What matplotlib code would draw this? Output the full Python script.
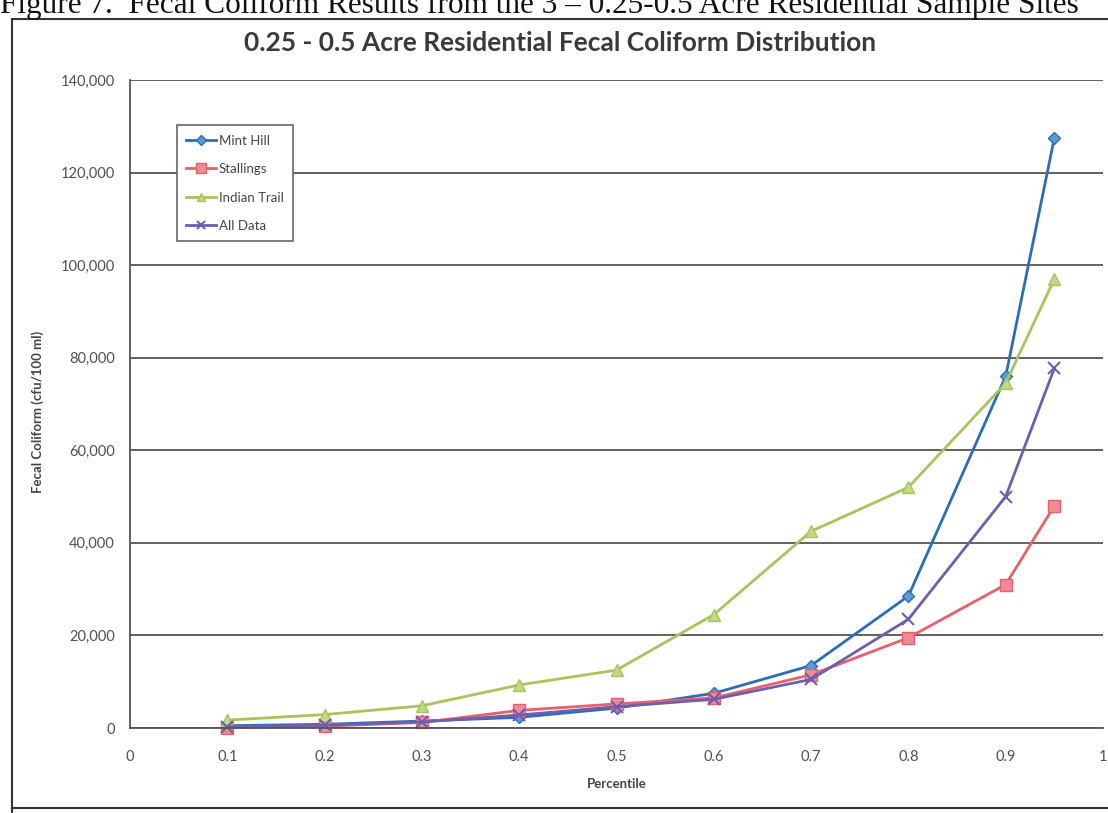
import matplotlib
matplotlib.use("Agg")
import matplotlib.pyplot as plt
from matplotlib.lines import Line2D
from matplotlib.ticker import FuncFormatter, MultipleLocator

# ---------------- data ----------------
percentile = [0.1, 0.2, 0.3, 0.4, 0.5, 0.6, 0.7, 0.8, 0.9, 0.95]
mint_hill = [500, 800, 1500, 2300, 4300, 7500, 13500, 28500, 76000, 127500]
stallings = [100, 400, 1200, 3800, 5200, 6500, 11500, 19500, 31000, 48000]
indian_trail = [1700, 2900, 4800, 9300, 12500, 24500, 42500, 52000, 74500, 97000]
all_data = [300, 600, 1300, 2800, 4600, 6200, 10500, 23500, 50000, 77700]

series_names = ["Mint Hill", "Stallings", "Indian Trail", "All Data"]
x_ticks = [0, 0.1, 0.2, 0.3, 0.4, 0.5, 0.6, 0.7, 0.8, 0.9, 1]
x_tick_labels = ["0", "0.1", "0.2", "0.3", "0.4", "0.5", "0.6", "0.7", "0.8", "0.9", "1"]

title = "0.25 - 0.5 Acre Residential Fecal Coliform Distribution"
caption = "Figure 7.  Fecal Coliform Results from the 3 \u2013 0.25-0.5 Acre Residential Sample Sites"
ylabel = "Fecal Coliform (cfu/100 ml)"
xlabel = "Percentile"

# ---------------- figure ----------------
W, H = 1108, 813
fig = plt.figure(figsize=(W / 100, H / 100), dpi=100)
fig.patch.set_facecolor("white")

def fx(px):
    return px / W

def fy(py):
    return 1 - py / H

ax = fig.add_axes([fx(130), fy(728), fx(1103) - fx(130), fy(80) - fy(728)])
ax.set_xlim(0, 1)
ax.set_ylim(0, 140000)

grid_col = "#555555"
ax.yaxis.set_major_locator(MultipleLocator(20000))
ax.grid(axis="y", color=grid_col, linewidth=1.3)
ax.set_axisbelow(True)
for s in ["top", "right"]:
    ax.spines[s].set_visible(False)
ax.spines["left"].set_color(grid_col)
ax.spines["left"].set_linewidth(1.3)
ax.spines["bottom"].set_color(grid_col)
ax.spines["bottom"].set_linewidth(1.3)

ax.set_xticks(x_ticks)
ax.set_xticklabels(x_tick_labels)
ax.yaxis.set_major_formatter(FuncFormatter(lambda v, p: f"{int(v):,}"))
ax.tick_params(axis="x", length=0, pad=16, labelsize=10.5, labelcolor="#505050")
ax.tick_params(axis="y", length=0, pad=11, labelsize=10.5, labelcolor="#505050")
for lab in ax.get_xticklabels() + ax.get_yticklabels():
    lab.set_fontfamily("Lato")

styles = [
    dict(color="#2a6ebb", marker="D", markersize=6, markerfacecolor="#5b9bd5", markeredgecolor="#2a6ebb"),
    dict(color="#e8606a", marker="s", markersize=9, markerfacecolor="#f08a94", markeredgecolor="#e8606a"),
    dict(color="#a8c45a", marker="^", markersize=8, markerfacecolor="#c5d88a", markeredgecolor="#a8c45a"),
    dict(color="#6b5fae", marker="x", markersize=8, markeredgewidth=1.5),
]
data = [mint_hill, stallings, indian_trail, all_data]
for name, vals, st in zip(series_names, data, styles):
    ax.plot(percentile, vals, label=name, linewidth=2.0, clip_on=False, **st)

leg = ax.legend(loc="upper left", bbox_to_anchor=(0.048, 0.93), borderaxespad=0,
                frameon=True, fancybox=False, edgecolor="#666666", framealpha=1,
                handlelength=2.3, handletextpad=0.2, labelspacing=1.25,
                borderpad=0.7, markerscale=0.8,
                prop={"family": "Lato", "size": 9.5})
leg.get_frame().set_linewidth(1.2)
for t in leg.get_texts():
    t.set_color("#444444")

# axis labels
fig.text(fx(617), fy(784), xlabel, ha="center", va="center",
         fontsize=9.5, fontweight="bold", family="Lato", color="#444444")
fig.text(fx(38), fy(412), ylabel, ha="center", va="center", rotation=90,
         fontsize=9.5, fontweight="bold", family="Lato", color="#444444")

# title
fig.text(fx(560), fy(43), title, ha="center", va="center",
         fontsize=19, fontweight="bold", family="Lato", color="#3a3a3a")

# caption (partially cut off at the top as in the scan)
fig.text(fx(0), fy(13), caption, ha="left", va="baseline",
         fontsize=22.5, family="Liberation Serif", color="#111111")

# chart frame
frame_col = "#333333"
fig.add_artist(Line2D([fx(12), fx(12)], [fy(19), fy(813)], color=frame_col, linewidth=1.5))
fig.add_artist(Line2D([fx(12), fx(1108)], [fy(19), fy(19)], color=frame_col, linewidth=1.5))
fig.add_artist(Line2D([fx(12), fx(1108)], [fy(808), fy(808)], color=frame_col, linewidth=1.5))

fig.savefig("out.png", dpi=100, facecolor="white")
